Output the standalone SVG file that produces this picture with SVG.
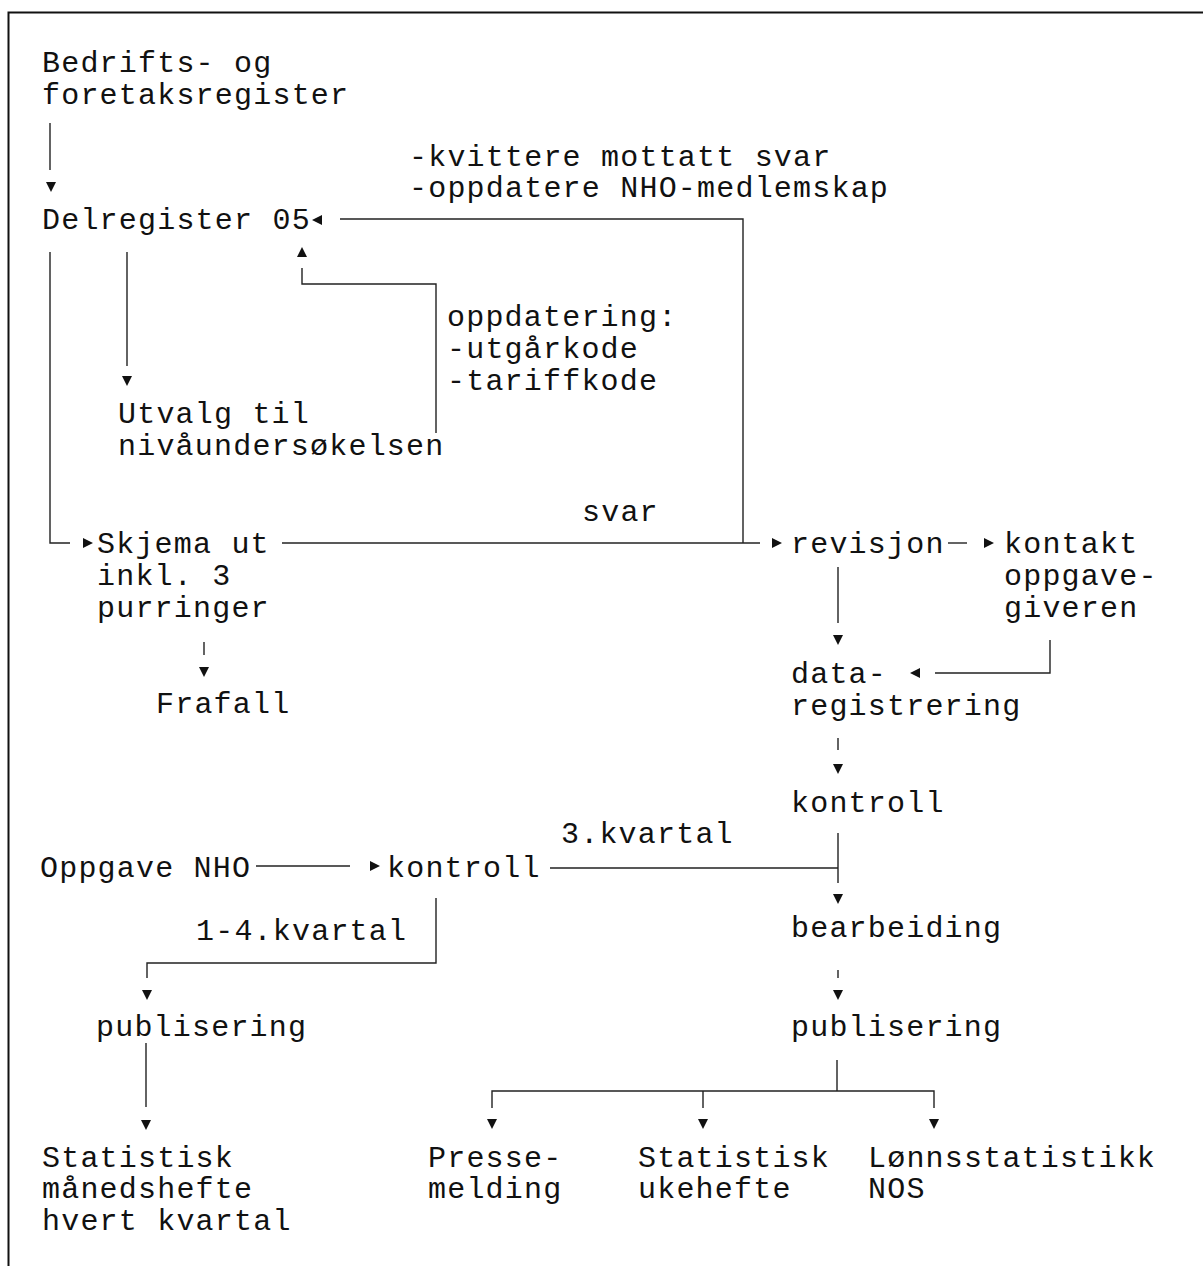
<svg xmlns="http://www.w3.org/2000/svg" xmlns:xlink="http://www.w3.org/1999/xlink" width="1203" height="1266" viewBox="0 0 1203 1266">
<style>
text{font-family:"Liberation Mono","Courier New","DejaVu Sans Mono",monospace;font-size:30px;letter-spacing:1.2px;fill:#111}
.c{fill:none;stroke:#222;stroke-width:1.4}
.frame{fill:none;stroke:#111;stroke-width:2}
.ah{fill:#111}
</style>
<defs>
<path id="ah" class="ah" d="M-10,-5 L0,0 L-10,5 Z"/>
</defs>
<rect width="1203" height="1266" fill="#fff"/>
<path class="frame" d="M8.5,1266 V12.5 H1203"/>

<g id="n-bedrifts"><text x="42" y="72">Bedrifts- og</text><text x="42" y="104">foretaksregister</text></g>
<g id="n-kvittere"><text x="409" y="166">-kvittere mottatt svar</text><text x="409" y="197">-oppdatere NHO-medlemskap</text></g>
<g id="n-delregister"><text x="42" y="229">Delregister 05</text></g>
<g id="n-oppdatering"><text x="447" y="326">oppdatering:</text><text x="447" y="358">-utgårkode</text><text x="447" y="390">-tariffkode</text></g>
<g id="n-utvalg"><text x="118" y="423">Utvalg til</text><text x="118" y="455">nivåundersøkelsen</text></g>
<g id="n-svar"><text x="582" y="521">svar</text></g>
<g id="n-skjema"><text x="97" y="553">Skjema ut</text><text x="97" y="585">inkl. 3</text><text x="97" y="617">purringer</text></g>
<g id="n-frafall"><text x="156" y="713">Frafall</text></g>
<g id="n-revisjon"><text x="791" y="553">revisjon</text></g>
<g id="n-kontakt"><text x="1004" y="553">kontakt</text><text x="1004" y="585">oppgave-</text><text x="1004" y="617">giveren</text></g>
<g id="n-dataregistrering"><text x="791" y="683">data-</text><text x="791" y="715">registrering</text></g>
<g id="n-kontroll-r"><text x="791" y="812">kontroll</text></g>
<g id="n-3kvartal"><text x="561" y="843">3.kvartal</text></g>
<g id="n-oppgave-nho"><text x="40" y="877">Oppgave NHO</text></g>
<g id="n-kontroll-l"><text x="387" y="877">kontroll</text></g>
<g id="n-14kvartal"><text x="196" y="940">1-4.kvartal</text></g>
<g id="n-bearbeiding"><text x="791" y="937">bearbeiding</text></g>
<g id="n-publisering-l"><text x="96" y="1036">publisering</text></g>
<g id="n-publisering-r"><text x="791" y="1036">publisering</text></g>
<g id="n-manedshefte"><text x="42" y="1167">Statistisk</text><text x="42" y="1198">månedshefte</text><text x="42" y="1230">hvert kvartal</text></g>
<g id="n-pressemelding"><text x="428" y="1167">Presse-</text><text x="428" y="1198">melding</text></g>
<g id="n-ukehefte"><text x="638" y="1167">Statistisk</text><text x="638" y="1198">ukehefte</text></g>
<g id="n-nos"><text x="868" y="1167">Lønnsstatistikk</text><text x="868" y="1198">NOS</text></g>

<g id="connectors">
<path class="c" d="M50,123 V170"/>
<use xlink:href="#ah" href="#ah" transform="translate(51,192) rotate(90)"/>
<path class="c" d="M743,543 V219 H340"/>
<use xlink:href="#ah" href="#ah" transform="translate(312,220) rotate(180)"/>
<path class="c" d="M436,433 V284 H302 V268"/>
<use xlink:href="#ah" href="#ah" transform="translate(302,247) rotate(-90)"/>
<path class="c" d="M127,252 V366"/>
<use xlink:href="#ah" href="#ah" transform="translate(127,386) rotate(90)"/>
<path class="c" d="M50,252 V543 H70"/>
<use xlink:href="#ah" href="#ah" transform="translate(93,543)"/>
<path class="c" d="M282,543 H760"/>
<use xlink:href="#ah" href="#ah" transform="translate(782,543)"/>
<path class="c" d="M204,642 V655"/>
<use xlink:href="#ah" href="#ah" transform="translate(204,677) rotate(90)"/>
<path class="c" d="M948,543 H967"/>
<use xlink:href="#ah" href="#ah" transform="translate(994,543)"/>
<path class="c" d="M838,567 V623"/>
<use xlink:href="#ah" href="#ah" transform="translate(838,645) rotate(90)"/>
<path class="c" d="M1050,640 V673 H935"/>
<use xlink:href="#ah" href="#ah" transform="translate(910,673) rotate(180)"/>
<path class="c" d="M838,738 V750"/>
<use xlink:href="#ah" href="#ah" transform="translate(838,774) rotate(90)"/>
<path class="c" d="M838,833 V883 M550,868 H838"/>
<use xlink:href="#ah" href="#ah" transform="translate(838,904) rotate(90)"/>
<path class="c" d="M256,866 H350"/>
<use xlink:href="#ah" href="#ah" transform="translate(380,866)"/>
<path class="c" d="M436,898 V963 H147 V978"/>
<use xlink:href="#ah" href="#ah" transform="translate(147,1000) rotate(90)"/>
<path class="c" d="M838,970 V978"/>
<use xlink:href="#ah" href="#ah" transform="translate(838,1000) rotate(90)"/>
<path class="c" d="M146,1043 V1107"/>
<use xlink:href="#ah" href="#ah" transform="translate(146,1130) rotate(90)"/>
<path class="c" d="M837,1060 V1091 M492,1108 V1091 H934 V1108 M703,1091 V1108"/>
<use xlink:href="#ah" href="#ah" transform="translate(492,1129) rotate(90)"/>
<use xlink:href="#ah" href="#ah" transform="translate(703,1129) rotate(90)"/>
<use xlink:href="#ah" href="#ah" transform="translate(934,1129) rotate(90)"/>
</g>
</svg>
